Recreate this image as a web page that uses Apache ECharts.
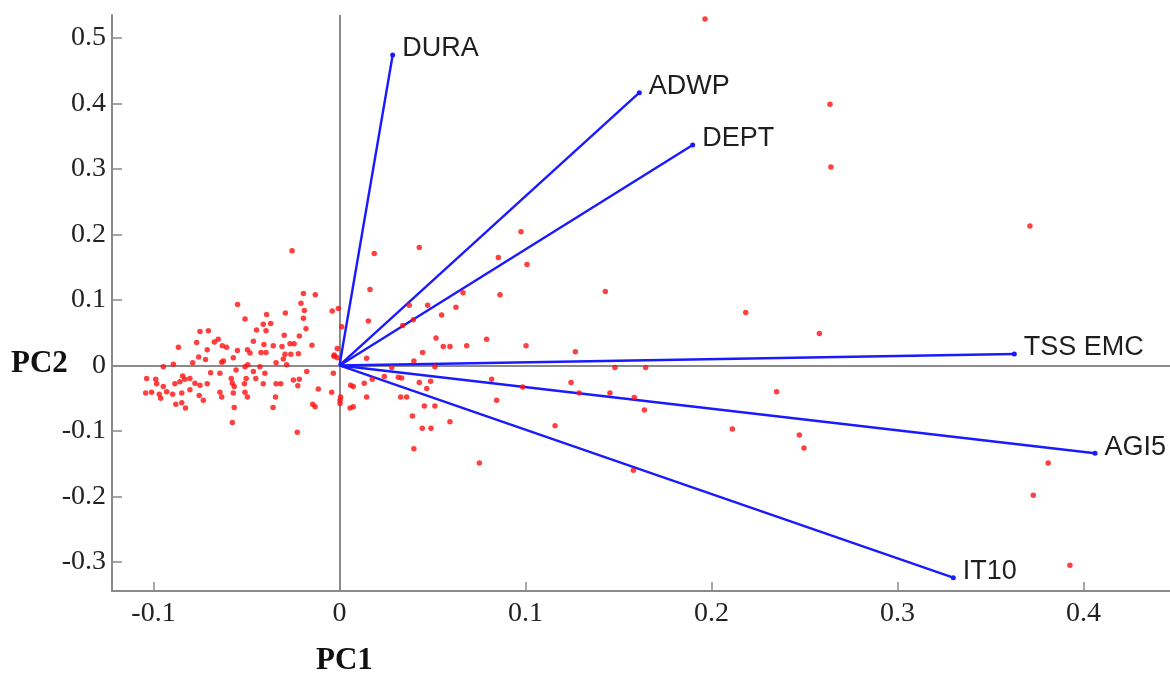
<!DOCTYPE html>
<html>
<head>
<meta charset="utf-8">
<script src="https://cdn.jsdelivr.net/npm/echarts@6/dist/echarts.min.js"></script>
<style>
html,body{margin:0;padding:0;background:#fff;}
#chart{width:1170px;height:680px;}
</style>
</head>
<body>
<div id="chart"></div>
<script>
// PCA scores (PC1, PC2) for each observation
const scores = [
[-0.0255,0.175],[-0.0194,0.110],[-0.0130,0.108],[-0.0548,0.093],[-0.0207,0.095],[-0.0189,0.084],
[-0.0039,0.083],[-0.0006,0.087],[-0.0291,0.080],[-0.0392,0.078],[-0.0508,0.071],[-0.0194,0.072],
[-0.0370,0.064],[-0.0410,0.063],[0.0012,0.059],[-0.0446,0.054],[-0.0395,0.053],[-0.0180,0.056],
[-0.0750,0.052],[-0.0705,0.053],[-0.0297,0.046],[-0.0216,0.045],[-0.0652,0.040],[-0.0673,0.036],
[-0.0768,0.035],[-0.0463,0.037],[-0.0406,0.032],[-0.0148,0.031],[-0.0266,0.033],[-0.0244,0.033],
[-0.0866,0.028],[-0.0630,0.030],[-0.0607,0.028],[-0.0309,0.029],[-0.0711,0.024],[-0.0549,0.023],
[-0.0495,0.024],[-0.0481,0.019],[-0.0422,0.020],[-0.0395,0.020],[-0.0356,0.030],[-0.0293,0.017],
[-0.0262,0.017],[-0.0221,0.018],[-0.0028,0.016],[-0.0012,0.012],[-0.0757,0.013],[-0.0720,0.009],
[-0.0624,0.007],[-0.0571,0.012],[-0.0633,0.005],[-0.0302,0.010],[-0.0789,0.004],[-0.0893,0.002],
[-0.0947,-0.002],[-0.0508,-0.002],[-0.0493,0.001],[-0.0428,-0.002],[-0.0341,0.004],[-0.0284,0.001],
[-0.0693,-0.011],[-0.0643,-0.012],[-0.0556,-0.007],[-0.0463,-0.009],[-0.0401,-0.012],[-0.0176,-0.009],
[-0.0033,-0.012],[-0.1037,-0.020],[-0.0988,-0.021],[-0.0843,-0.016],[-0.0831,-0.021],[-0.0804,-0.020],
[-0.0582,-0.020],[-0.0502,-0.020],[-0.0450,-0.020],[-0.0248,-0.022],[-0.0216,-0.021],[-0.0983,-0.028],
[-0.0947,-0.032],[-0.0885,-0.028],[-0.0858,-0.025],[-0.0777,-0.027],[-0.0750,-0.030],[-0.0711,-0.028],
[-0.0576,-0.027],[-0.0566,-0.032],[-0.0511,-0.028],[-0.0410,-0.028],[-0.0341,-0.028],[-0.0316,-0.028],
[-0.0224,-0.031],[-0.0114,-0.036],[0.0060,-0.030],[0.0074,-0.032],[-0.1042,-0.042],[-0.1010,-0.041],
[-0.0969,-0.044],[-0.0929,-0.040],[-0.0848,-0.042],[-0.0804,-0.037],[-0.0754,-0.046],[-0.0643,-0.041],
[-0.0571,-0.042],[-0.0508,-0.041],[-0.0495,-0.048],[-0.0042,-0.041],[0.0006,-0.048],[0.0146,-0.048],
[-0.0961,-0.050],[-0.0897,-0.044],[-0.0732,-0.053],[-0.0633,-0.048],[-0.0344,-0.048],[0.0003,-0.053],
[-0.0144,-0.059],[-0.0131,-0.063],[-0.0880,-0.059],[-0.0848,-0.057],[-0.0828,-0.065],[-0.0566,-0.064],
[-0.0357,-0.064],[0.0003,-0.058],[0.0057,-0.065],[0.0074,-0.063],[-0.0576,-0.087],[-0.0227,-0.102],
[0.0187,0.171],[0.0164,0.116],[0.0155,0.068],[-0.0012,0.026],[-0.0030,0.014],[0.0146,0.011],
[0.0176,-0.021],[0.0133,-0.027],
[0.0976,0.204],[0.0429,0.180],[0.0854,0.165],[0.1008,0.154],[0.1429,0.113],[0.0664,0.111],
[0.0863,0.108],[0.0375,0.092],[0.0474,0.092],[0.0626,0.089],[0.0549,0.077],[0.0397,0.070],
[0.2184,0.081],[0.0340,0.061],[0.0519,0.042],[0.0791,0.040],[0.0558,0.029],[0.0594,0.029],
[0.0684,0.030],[0.1003,0.030],[0.0447,0.020],[0.1268,0.021],[0.0400,0.007],[0.0281,-0.003],
[0.0513,-0.002],[0.1481,-0.003],[0.1646,-0.003],[0.0241,-0.017],[0.0316,-0.018],[0.0334,-0.019],
[0.0818,-0.021],[0.0429,-0.026],[0.0490,-0.024],[0.1245,-0.026],[0.0469,-0.035],[0.0985,-0.033],
[0.1289,-0.042],[0.1454,-0.042],[0.1585,-0.049],[0.2350,-0.040],[0.0329,-0.048],[0.0361,-0.048],
[0.0845,-0.053],[0.0456,-0.062],[0.0513,-0.062],[0.1639,-0.068],[0.0392,-0.077],[0.0594,-0.086],
[0.0445,-0.096],[0.0492,-0.096],[0.1159,-0.092],[0.2112,-0.097],[0.0400,-0.127],[0.0752,-0.149],
[0.1580,-0.160],
[0.1965,0.529],[0.2637,0.399],[0.2642,0.303],[0.3712,0.213],[0.2580,0.049],[0.2472,-0.106],
[0.2497,-0.126],[0.3810,-0.149],[0.3730,-0.198],[0.3927,-0.305]
];

// Variable loadings (PC1, PC2)
const loadingNames = ['DURA','ADWP','DEPT','TSS EMC','AGI5','IT10'];
const loadingPC1 = [0.0286, 0.1612, 0.1899, 0.3628, 0.4062, 0.3300];
const loadingPC2 = [0.474, 0.4165, 0.3366, 0.0176, -0.134, -0.324];

// Axis ticks
const xTicks = [-0.1, 0, 0.1, 0.2, 0.3, 0.4];
const yTicks = [-0.3, -0.2, -0.1, 0, 0.1, 0.2, 0.3, 0.4, 0.5];

const fmt = v => String(Math.round(v * 10) / 10);
const serif = '"Liberation Serif", "DejaVu Serif", serif';
const sans = '"Liberation Sans", Arial, sans-serif';
const axisGray = '#8a8a8a';

const vectorSeries = loadingNames.map((name, i) => ({
  type: 'line',
  name: name,
  silent: true,
  z: 3,
  lineStyle: { color: '#1a1aff', width: 2.4 },
  itemStyle: { color: '#1a1aff' },
  showSymbol: true,
  animation: false,
  data: [
    { value: [0, 0], symbol: 'none' },
    {
      value: [loadingPC1[i], loadingPC2[i]],
      symbol: 'circle',
      symbolSize: 5,
      label: {
        show: true,
        position: 'right',
        distance: 7,
        offset: [0, -6],
        formatter: name,
        fontFamily: sans,
        fontSize: 27,
        color: '#1e1e1e'
      }
    }
  ]
}));

const chart = echarts.init(document.getElementById('chart'), null, { renderer: 'canvas' });
chart.setOption({
  animation: false,
  backgroundColor: '#fff',
  grid: { left: 112, right: 0, top: 15, bottom: 89, containLabel: false },
  xAxis: {
    type: 'value',
    min: -0.1223,
    max: 0.4465,
    splitLine: { show: false },
    axisLine: { show: true, onZero: false, lineStyle: { color: axisGray, width: 2 } },
    axisTick: { show: true, inside: true, length: 9, customValues: xTicks, lineStyle: { color: axisGray, width: 1.5 } },
    axisLabel: { customValues: xTicks, formatter: fmt, fontFamily: serif, fontSize: 28, color: '#222', margin: 9 }
  },
  yAxis: {
    type: 'value',
    min: -0.3443,
    max: 0.5351,
    splitLine: { show: false },
    axisLine: { show: true, onZero: false, lineStyle: { color: axisGray, width: 2 } },
    axisTick: { show: true, inside: true, length: 10, customValues: yTicks, lineStyle: { color: axisGray, width: 1.5 } },
    axisLabel: { customValues: yTicks, formatter: fmt, fontFamily: serif, fontSize: 28, color: '#222', margin: 6 }
  },
  graphic: [
    { type: 'text', left: 11, top: 348, style: { text: 'PC2', font: 'bold 31px ' + serif, fill: '#111' } },
    { type: 'text', left: 316, top: 645, style: { text: 'PC1', font: 'bold 31px ' + serif, fill: '#111' } }
  ],
  series: [
    {
      type: 'scatter',
      silent: true,
      z: 4,
      symbolSize: 5.5,
      itemStyle: { color: '#ff1010' },
      data: scores,
      markLine: {
        silent: true,
        symbol: 'none',
        label: { show: false },
        lineStyle: { color: axisGray, width: 2, type: 'solid' },
        data: [{ xAxis: 0 }, { yAxis: 0 }],
        z: 1
      }
    }
  ].concat(vectorSeries)
});
</script>
</body>
</html>
